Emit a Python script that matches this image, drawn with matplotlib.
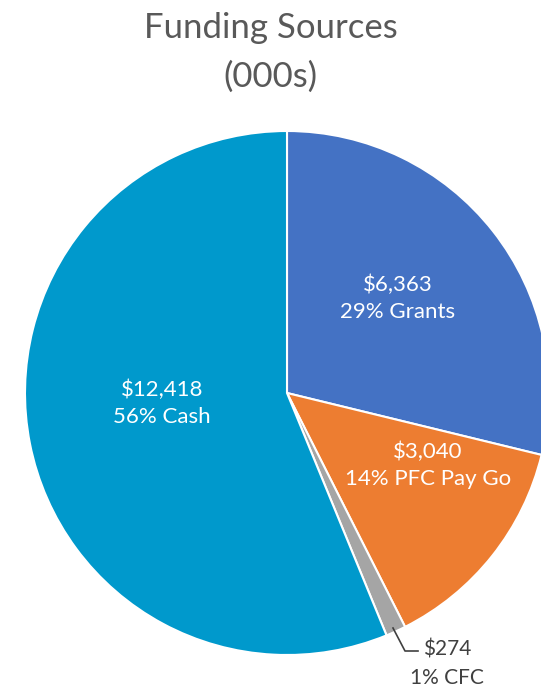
import matplotlib.pyplot as plt

# data (000s)
labels = ['Grants', 'PFC Pay Go', 'CFC', 'Cash']
values = [6363, 3040, 274, 12418]
colors = ['#4472C4', '#ED7D31', '#A5A5A5', '#0099CC']

plt.rcParams['font.family'] = ['Lato', 'DejaVu Sans']

fig = plt.figure(figsize=(5.41, 6.91), dpi=100)
ax = fig.add_axes([0, 0, 1, 1])

# pie in pixel coords (y up)
cx, cy, r = 287, 691 - 393, 262
wedges, _ = ax.pie(values, colors=colors, startangle=90, counterclock=False,
                   center=(cx, cy), radius=r,
                   wedgeprops=dict(edgecolor='white', linewidth=1.5))
ax.set_xlim(0, 541)
ax.set_ylim(0, 691)
ax.set_aspect('equal')
ax.axis('off')

total = sum(values)
pct = [round(v / total * 100) for v in values]
txt = [f'${v:,}\n{p}% {l}' for v, p, l in zip(values, pct, labels)]

# label positions (pixels from top)
pos = [(398, 298), (428, 465), None, (162, 403)]
for t, p in zip(txt, pos):
    if p is None:
        continue
    ax.text(p[0], 691 - p[1], t, ha='center', va='center', color='white',
            fontsize=16, linespacing=1.45)

# CFC label with leader line
ax.plot([393, 405, 418], [691 - 628, 691 - 651, 691 - 651], color='#404040', lw=1.2)
ax.text(447, 691 - 664, txt[2], ha='center', va='center', color='#404040',
        fontsize=15, linespacing=1.55)

fig.text(0.5, 1 - 28 / 691, 'Funding Sources', ha='center', va='center',
         fontsize=25, color='#595959')
fig.text(0.5, 1 - 77 / 691, '(000s)', ha='center', va='center',
         fontsize=25, color='#595959')

plt.savefig('out.png', dpi=100)
plt.close()
